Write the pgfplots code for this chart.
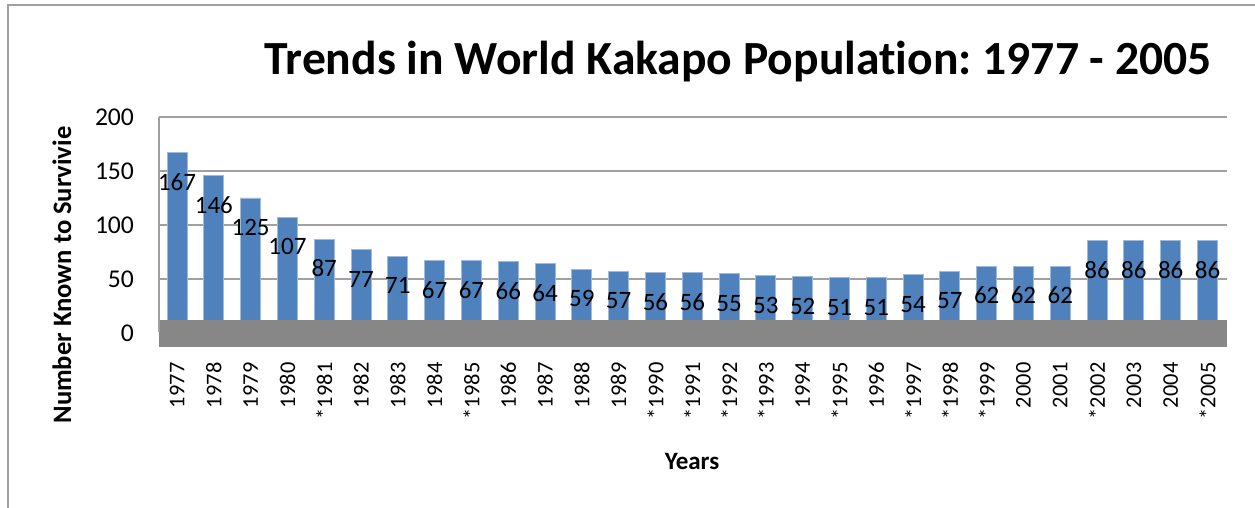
\documentclass[border=0pt]{standalone}
\usepackage{fontspec}
\setmainfont[Ligatures=NoCommon]{Carlito}
\usepackage{pgfplots}
\pgfplotsset{compat=1.18}
\definecolor{barblue}{HTML}{4F81BD}
\definecolor{floorgray}{HTML}{878787}
\definecolor{gridgray}{HTML}{A0A0A0}
\frenchspacing
\begin{document}
\begin{tikzpicture}
\useasboundingbox (0,0) rectangle (627.5pt,254pt);
\draw[color=gridgray, line width=0.9pt] (4pt,-2pt) -- (4pt,251.5pt) -- (632pt,251.5pt);
\begin{axis}[
  name=ax,
  at={(79.5pt,80.5pt)}, anchor=south west,
  scale only axis, width=534pt, height=115pt,
  xmin=-0.49, xmax=28.53, ymin=-13, ymax=200,
  clip=false,
  ybar, bar width=10pt,
  axis line style={draw=none},
  major tick style={draw=none},
  ytick={0,50,100,150,200},
  ymajorgrids, grid style={gridgray, line width=0.8pt},
  xtick={0,...,28},
  xticklabels={1977,1978,1979,1980,*1981,1982,1983,1984,*1985,1986,1987,1988,1989,*1990,*1991,*1992,*1993,1994,*1995,1996,*1997,*1998,*1999,2000,2001,*2002,2003,2004,*2005},
  xticklabel style={rotate=90, anchor=east, font=\fontsize{11.2}{13}\selectfont},
  yticklabel style={font=\fontsize{12.8}{15}\selectfont, xshift=-9pt},
  /pgf/number format/assume math mode=true,
  nodes near coords,
  every node near coord/.append style={anchor=center, yshift=-14.75pt, font=\fontsize{12.5}{15}\selectfont, black},
]
\addplot[fill=barblue, draw=barblue!55!white, line width=0.4pt] coordinates {
(0,167) (1,146) (2,125) (3,107) (4,87) (5,77) (6,71) (7,67) (8,67) (9,66)
(10,64) (11,59) (12,57) (13,56) (14,56) (15,55) (16,53) (17,52) (18,51) (19,51)
(20,54) (21,57) (22,62) (23,62) (24,62) (25,86) (26,86) (27,86) (28,86)};
\fill[floorgray] (axis cs:-0.49,-13) rectangle (axis cs:28.53,12);
\draw[gridgray, line width=0.8pt] (axis cs:-0.49,1) -- (axis cs:-0.49,200);
\end{axis}
\node[font=\bfseries\fontsize{23.8}{28}\selectfont, anchor=base] at (369pt,216.5pt) {Trends in World Kakapo Population: 1977 - 2005};
\node[font=\bfseries\fontsize{13.3}{16}\selectfont, rotate=90] at (31pt,116.5pt) {Number Known to Survivie};
\node[font=\bfseries\fontsize{12.5}{15}\selectfont, anchor=base] at (346pt,19pt) {Years};
\end{tikzpicture}
\end{document}
